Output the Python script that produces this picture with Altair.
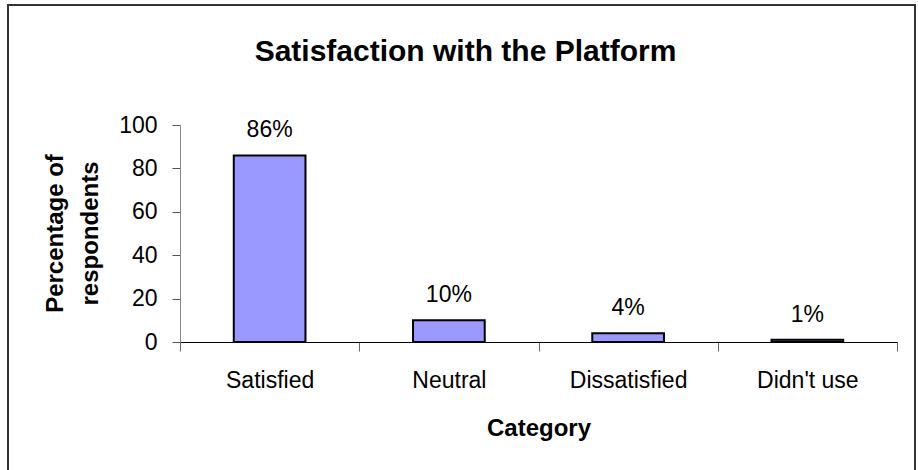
import altair as alt
import pandas as pd

categories = ["Satisfied", "Neutral", "Dissatisfied", "Didn't use"]
percentages = [86, 10, 4, 1]
value_labels = ["86%", "10%", "4%", "1%"]
y_ticks = [0, 20, 40, 60, 80, 100]

df = pd.DataFrame({"Category": categories, "Percent": percentages, "Label": value_labels})

FONT = "Liberation Sans"

x_enc = alt.X(
    "Category:N",
    sort=categories,
    scale=alt.Scale(paddingInner=0, paddingOuter=0),
    axis=alt.Axis(
        title="Category", labelAngle=0, labelFontSize=23, labelFont=FONT, labelColor="black",
        labelPadding=18, tickBand="extent", tickSize=9, tickColor="#666", domainColor="black",
        titleFontSize=24, titleFontWeight="bold", titleFont=FONT, titleColor="black", titlePadding=24,
    ),
)
y_enc = alt.Y(
    "Percent:Q",
    scale=alt.Scale(domain=[0, 100], nice=False),
    axis=alt.Axis(
        values=y_ticks, grid=False, tickSize=8, tickColor="#555", domainColor="#888",
        labelFontSize=23, labelFont=FONT, labelColor="black", labelPadding=15,
        title=["Percentage of", "respondents"], titleFontSize=24, titleFontWeight="bold",
        titleFont=FONT, titleColor="black", titleX=-125, titleY=108, titleAngle=270,
        titleAlign="center", titleBaseline="middle", titleLineHeight=35,
    ),
)

base = alt.Chart(df)
bars = base.mark_bar(width=alt.RelativeBandSize(0.4), color="#9999FF", stroke="black", strokeWidth=2).encode(
    x=x_enc, y=y_enc
)
texts = base.mark_text(fontSize=23, font=FONT, color="black", baseline="alphabetic", dy=-18).encode(
    x=alt.X("Category:N", sort=categories), y="Percent:Q", text="Label:N"
)
border = alt.Chart(pd.DataFrame({"b": [0]})).mark_rect(filled=False, stroke="#333", strokeWidth=2).encode(
    x=alt.value(-172), x2=alt.value(735), y=alt.value(-120), y2=alt.value(360)
)

chart = alt.layer(bars, texts, border).properties(
    width=717,
    height=217,
    autosize=alt.AutoSizeParams(type="none"),
    padding={"left": 180, "top": 125, "right": 21, "bottom": 128},
    title=alt.TitleParams(
        "Satisfaction with the Platform", fontSize=30, font=FONT, fontWeight="bold",
        color="black", anchor="middle", dx=-73, baseline="alphabetic", offset=-87,
    ),
).configure_view(stroke=None)

chart.save("out.html", embed_options={"renderer": "svg", "actions": False})
